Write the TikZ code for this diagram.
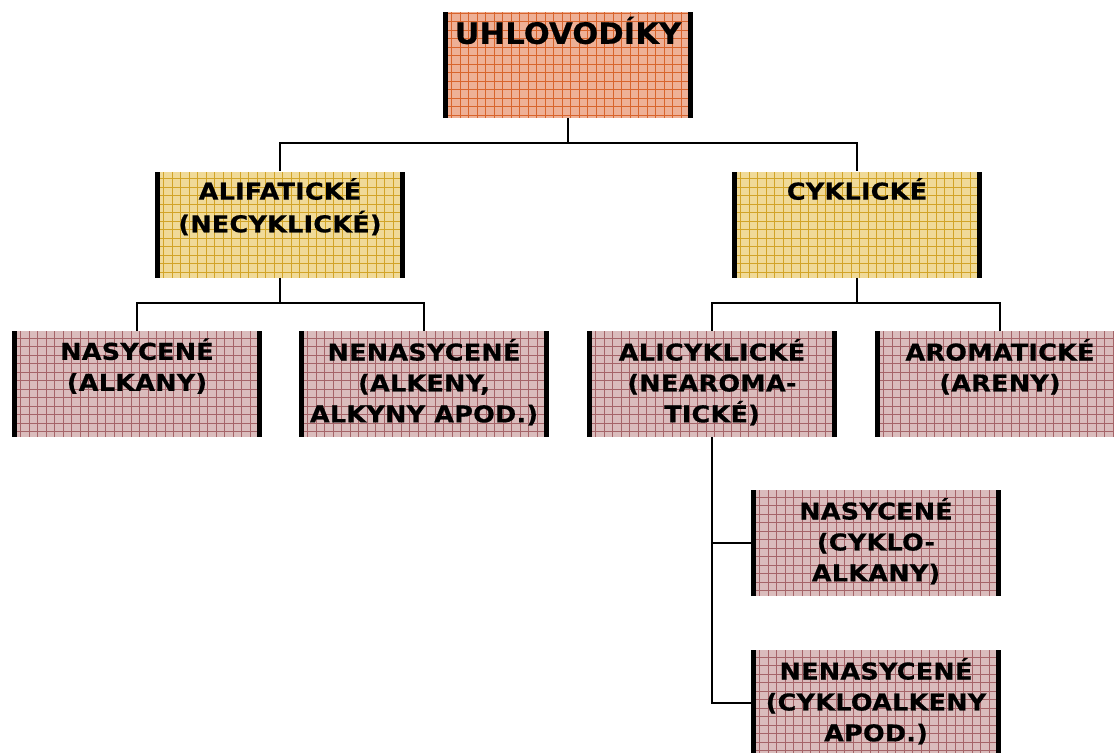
\documentclass[tikz,border=0pt]{standalone}
\usepackage{fontspec}
\setmainfont{DejaVu Sans}
\newfontfamily\tilefont[FakeStretch=1.1,LetterSpace=1,FakeBold=0.6]{DejaVu Sans}
\newfontfamily\titlefont[FakeStretch=1.04,LetterSpace=0.5,FakeBold=0.6]{DejaVu Sans}
\definecolor{titlefill}{RGB}{238,176,150}
\definecolor{titlegrid}{RGB}{216,100,44}
\definecolor{yelfill}{RGB}{240,218,152}
\definecolor{yelgrid}{RGB}{210,164,40}
\definecolor{pinkfill}{RGB}{218,188,188}
\definecolor{pinkgrid}{RGB}{165,100,104}
\newcommand{\tiletext}[2]{\parbox[c][2.12cm][t]{5cm}{\centering\rule{0pt}{#1}#2\par}}

\begin{document}
\begin{tikzpicture}[x=0.02cm,y=-0.02cm,
  tile/.style={rectangle,inner sep=0pt,fill=#1fill,
    font=\tilefont\bfseries\fontsize{13.2}{17.6}\selectfont,
    path picture={
      \draw[#1grid,line width=0.45pt,step=0.17cm] (path picture bounding box.south west) grid (path picture bounding box.north east);
      \fill[black] (path picture bounding box.south west) rectangle ++(0.1cm,2.12cm);
      \fill[black] (path picture bounding box.north east) rectangle ++(-0.1cm,-2.12cm);}},
  conn/.style={draw=black,line width=1pt}]
\clip (0,0) rectangle (1114,752);

% top
\node[tile=title,font=\titlefont\bfseries\fontsize{16.7}{20}\selectfont] (uhl) at (568,65) {\tiletext{18.1pt}{UHLOVODÍKY}};

% second row
\node[tile=yel,font=\tilefont\bfseries\fontsize{13.2}{18.6}\selectfont] (ali) at (280,224.5) {\tiletext{16pt}{ALIFATICKÉ\\(NECYKLICKÉ)}};
\node[tile=yel] (cyk) at (857,224.5) {\tiletext{16pt}{CYKLICKÉ}};

% third row
\node[tile=pink] (nas) at (137,384) {\tiletext{16.4pt}{NASYCENÉ\\(ALKANY)}};
\node[tile=pink] (nen) at (424,384) {\tiletext{16.8pt}{NENASYCENÉ\\(ALKENY,\\ALKYNY APOD.)}};
\node[tile=pink] (alic) at (712,384) {\tiletext{16.8pt}{ALICYKLICKÉ\\(NEAROMA-\\TICKÉ)}};
\node[tile=pink] (aro) at (1000,384) {\tiletext{16.8pt}{AROMATICKÉ\\(ARENY)}};

% cyclic branch
\node[tile=pink] (cnas) at (876,543) {\tiletext{16.8pt}{NASYCENÉ\\(CYKLO-\\ALKANY)}};
\node[tile=pink] (cnen) at (876,703) {\tiletext{16.8pt}{NENASYCENÉ\\(CYKLOALKENY\\APOD.)}};

% connectors
\draw[conn] (uhl.south) -- ++(0,25) coordinate (j1) -| (ali.north);
\draw[conn] (j1) -| (cyk.north);
\draw[conn] (ali.south) -- ++(0,25) coordinate (j2) -| (nas.north);
\draw[conn] (j2) -| (nen.north);
\draw[conn] (cyk.south) -- ++(0,25) coordinate (j3) -| (alic.north);
\draw[conn] (j3) -| (aro.north);
\draw[conn] (alic.south) |- (cnas.west);
\draw[conn] (alic.south) |- (cnen.west);
\end{tikzpicture}
\end{document}
